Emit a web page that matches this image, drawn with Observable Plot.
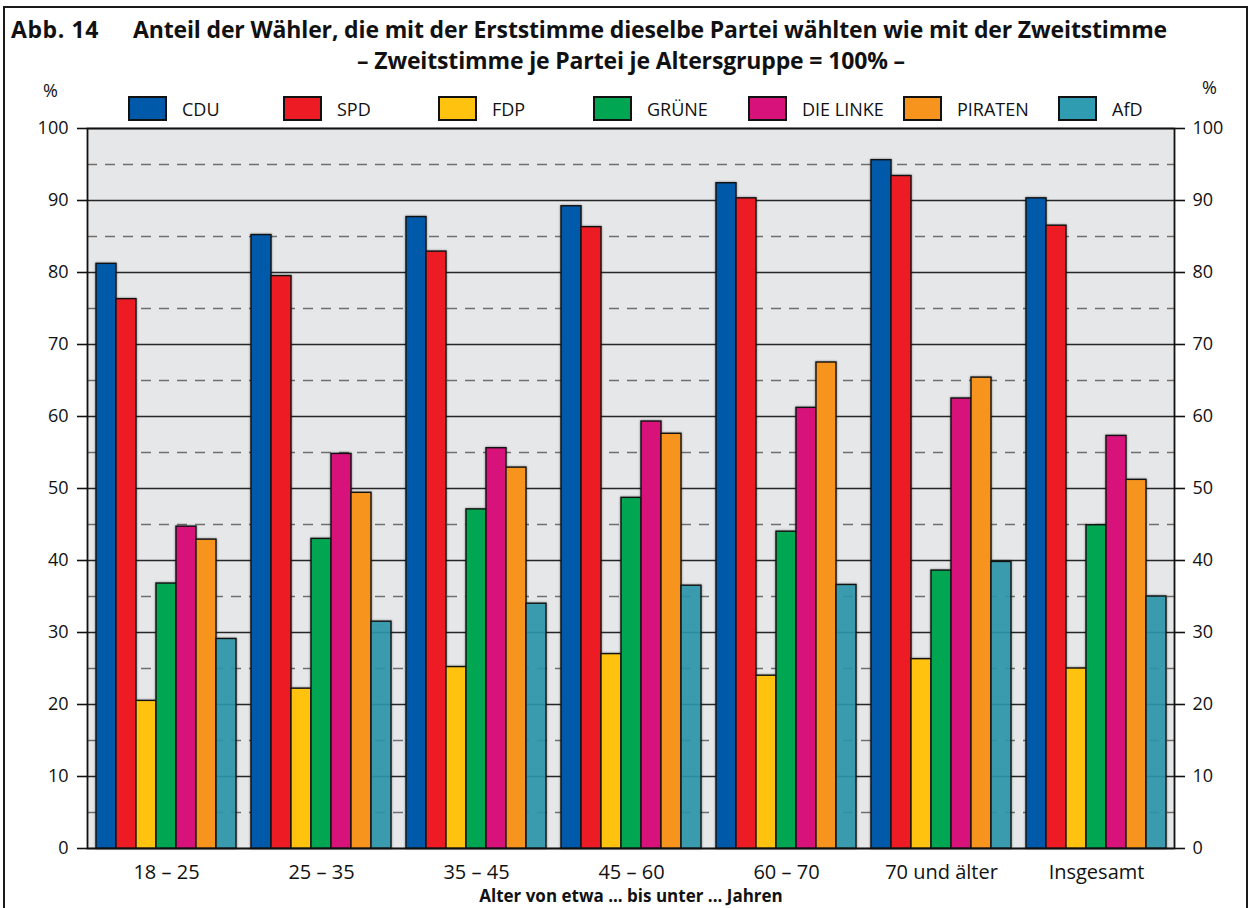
<!DOCTYPE html>
<html>
<head>
<meta charset="utf-8">
<script src="https://cdn.jsdelivr.net/npm/d3@7"></script>
<script src="https://cdn.jsdelivr.net/npm/@observablehq/plot@0.6"></script>
<style>
  html, body { margin: 0; padding: 0; background: #fff; }
  body { font-family: "Open Sans", "Noto Sans", sans-serif; color: #111; }
  #wrap { position: relative; width: 1253px; height: 908px; overflow: hidden; background: #fff; }
  #border { position: absolute; left: 3px; top: 6px; width: 1245px; height: 1000px; border: 2.5px solid #1a1a1a; box-sizing: border-box; }
  .title { position: absolute; font-weight: 700; font-size: 23px; line-height: 23px; white-space: nowrap; letter-spacing: -0.15px; }
  .pct { position: absolute; font-size: 18px; line-height: 18px; }
  #legend { position: absolute; left: 128px; top: 96px; display: flex; height: 25px; }
  .item { width: 155px; display: flex; align-items: center; }
  .sw { width: 39px; height: 25px; box-sizing: border-box; border: 2.5px solid #111; }
  .lab { margin-left: 15px; font-size: 18px; }
  .chart { position: absolute; left: 0; top: 70px; }
  #bars svg { background: transparent !important; }
  #bars g[aria-label="bar"] { filter: drop-shadow(0 0 1px rgba(0,0,0,0.45)); }
</style>
</head>
<body>
<div id="wrap">
  <div id="border"></div>
  <div class="title" style="left:11px; top:18px; letter-spacing:0.6px;">Abb. 14</div>
  <div class="title" id="t1" style="left:133px; top:18px;">Anteil der Wähler, die mit der Erststimme dieselbe Partei wählten wie mit der Zweitstimme</div>
  <div class="title" style="left:0; width:1262px; text-align:center; top:49px;">– Zweitstimme je Partei je Altersgruppe = 100% –</div>
  <div class="pct" style="left:43px; top:81px;">%</div>
  <div class="pct" style="left:1202px; top:78px;">%</div>
  <div id="legend"></div>
  <div class="chart" id="bg"></div>
  <div class="chart" id="bars"></div>
</div>
<script>
// ---- data ----
const groups = ["18 – 25", "25 – 35", "35 – 45", "45 – 60", "60 – 70", "70 und älter", "Insgesamt"];
const parties = ["CDU", "SPD", "FDP", "GRÜNE", "DIE LINKE", "PIRATEN", "AfD"];
const colors = ["#0059a9", "#ed1c24", "#ffc20e", "#00a651", "#d8127b", "#f7941d", "#2f9cb2"];
const cdu     = [81.2, 85.2, 87.7, 89.2, 92.4, 95.6, 90.3];
const spd     = [76.3, 79.5, 82.9, 86.3, 90.3, 93.4, 86.5];
const fdp     = [20.5, 22.2, 25.2, 27.0, 24.0, 26.3, 25.0];
const gruene  = [36.8, 43.0, 47.1, 48.7, 44.0, 38.6, 44.9];
const linke   = [44.7, 54.8, 55.6, 59.3, 61.2, 62.5, 57.3];
const piraten = [42.9, 49.4, 52.9, 57.6, 67.5, 65.4, 51.2];
const afd     = [29.1, 31.5, 34.0, 36.5, 36.6, 39.8, 35.0];
const yTicks = [0, 10, 20, 30, 40, 50, 60, 70, 80, 90, 100];
const yMinor = [5, 15, 25, 35, 45, 55, 65, 75, 85, 95];
const xLabel = "Alter von etwa ... bis unter ... Jahren";

const series = [cdu, spd, fdp, gruene, linke, piraten, afd];
const table = groups.flatMap((g, i) => parties.map((p, j) => ({group: g, party: p, value: series[j][i]})));

// ---- legend ----
const leg = document.getElementById("legend");
parties.forEach((p, j) => {
  const it = document.createElement("div");
  it.className = "item";
  it.innerHTML = `<div class="sw" style="background:${colors[j]}"></div><div class="lab">${p}</div>`;
  leg.appendChild(it);
});

const W = 1253, H = 838;
const M = {marginTop: 58, marginBottom: 60, marginLeft: 87, marginRight: 79};

// ---- background chart: frame, grid, axes ----
const bg = Plot.plot({
  width: W, height: H, ...M,
  style: {fontFamily: "'Open Sans', 'Noto Sans', sans-serif", fontSize: "18px", color: "#111", background: "transparent"},
  x: {type: "band", domain: groups, paddingInner: 0.06, paddingOuter: 0, insetLeft: 4, insetRight: 3},
  y: {domain: [0, 100]},
  marks: [
    Plot.frame({fill: "#e6e7e8", stroke: null}),
    Plot.ruleY(yMinor, {stroke: "#6f6f6f", strokeWidth: 1.6, strokeDasharray: "10,8"}),
    Plot.ruleY(yTicks, {stroke: "#262626", strokeWidth: 1.6}),
    Plot.axisY({anchor: "left", ticks: yTicks, tickSize: 10, tickPadding: 9, label: null, stroke: "#111", strokeWidth: 1.6, fontSize: 18}),
    Plot.axisY({anchor: "right", ticks: yTicks, tickSize: 10, tickPadding: 8, label: null, stroke: "#111", strokeWidth: 1.6, fontSize: 18}),
    Plot.axisX({anchor: "bottom", tickSize: 0, tickPadding: 16, label: null, fontSize: 20}),
    Plot.text([xLabel], {text: d => d, frameAnchor: "bottom", dy: 53, fontWeight: "bold", fontSize: 17}),
    Plot.frame({stroke: "#111", strokeWidth: 1.8})
  ]
});
document.getElementById("bg").appendChild(bg);

// ---- bars chart (faceted by age group) ----
const bars = Plot.plot({
  width: W, height: H, ...M,
  style: {background: "transparent"},
  fx: {domain: groups, padding: 0.06, insetLeft: 4, insetRight: 3, axis: null, label: null},
  x: {domain: parties, padding: 0, axis: null},
  y: {domain: [0, 100], axis: null},
  color: {domain: parties, range: colors},
  marks: [
    Plot.barY(table, {
      fx: "group", x: "party", y: "value", fill: "party",
      fillOpacity: d => d.party === "AfD" ? 0.88 : 1,
      stroke: "#111", strokeWidth: 1.4
    })
  ]
});
document.getElementById("bars").appendChild(bars);
</script>
</body>
</html>
